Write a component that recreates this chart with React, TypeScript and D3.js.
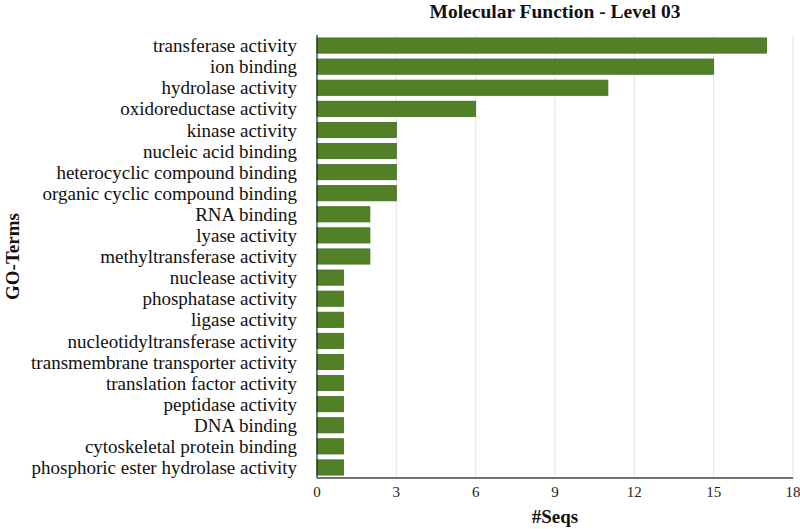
import React, { useRef, useEffect } from 'react';
import { select, scaleLinear, scaleBand, range } from 'd3';

const width = 800;
const height = 529;
const margin = { top: 35, right: 7, bottom: 51, left: 317 };

const terms = [
    'transferase activity',
    'ion binding',
    'hydrolase activity',
    'oxidoreductase activity',
    'kinase activity',
    'nucleic acid binding',
    'heterocyclic compound binding',
    'organic cyclic compound binding',
    'RNA binding',
    'lyase activity',
    'methyltransferase activity',
    'nuclease activity',
    'phosphatase activity',
    'ligase activity',
    'nucleotidyltransferase activity',
    'transmembrane transporter activity',
    'translation factor activity',
    'peptidase activity',
    'DNA binding',
    'cytoskeletal protein binding',
    'phosphoric ester hydrolase activity',
];

const seqs = [17, 15, 11, 6, 3, 3, 3, 3, 2, 2, 2, 1, 1, 1, 1, 1, 1, 1, 1, 1, 1];

const xTicks = [0, 3, 6, 9, 12, 15, 18];

const font = '"Liberation Serif", "Times New Roman", serif';

export default function App() {
    const svgRef = useRef<SVGSVGElement>(null);

    useEffect(() => {
        const svg = select(svgRef.current);
        svg.selectAll('*').remove();

        const x = scaleLinear()
            .domain([0, 18])
            .range([margin.left, width - margin.right]);

        const y = scaleBand<string>()
            .domain(terms)
            .range([margin.top, height - margin.bottom])
            .paddingInner(0.28)
            .paddingOuter(0.14);

        const bottom = height - margin.bottom;

        // grid
        svg.append('g')
            .selectAll('line')
            .data(xTicks.slice(1))
            .enter()
            .append('line')
            .attr('x1', d => x(d))
            .attr('x2', d => x(d))
            .attr('y1', margin.top)
            .attr('y2', bottom)
            .attr('stroke', '#e4e4e4')
            .attr('stroke-width', 1);

        // bars
        svg.append('g')
            .selectAll('rect')
            .data(range(terms.length))
            .enter()
            .append('rect')
            .attr('x', x(0))
            .attr('y', i => y(terms[i]) as number)
            .attr('width', i => x(seqs[i]) - x(0))
            .attr('height', y.bandwidth())
            .attr('fill', '#518027')
            .attr('stroke', '#3e6a1e')
            .attr('stroke-width', 0.8);

        // axes lines
        svg.append('line')
            .attr('x1', x(0)).attr('x2', x(0))
            .attr('y1', margin.top).attr('y2', bottom)
            .attr('stroke', '#222').attr('stroke-width', 1.2);
        svg.append('line')
            .attr('x1', x(0)).attr('x2', x(18))
            .attr('y1', bottom).attr('y2', bottom)
            .attr('stroke', '#444').attr('stroke-width', 1.5);

        // category labels
        svg.append('g')
            .selectAll('text')
            .data(terms)
            .enter()
            .append('text')
            .attr('x', x(0) - 20)
            .attr('y', d => (y(d) as number) + y.bandwidth() / 2)
            .attr('dy', '0.35em')
            .attr('text-anchor', 'end')
            .attr('font-family', font)
            .attr('font-size', 19)
            .attr('fill', '#111')
            .text(d => d);

        // tick labels
        svg.append('g')
            .selectAll('text')
            .data(xTicks)
            .enter()
            .append('text')
            .attr('x', d => x(d))
            .attr('y', bottom + 19)
            .attr('text-anchor', 'middle')
            .attr('font-family', font)
            .attr('font-size', 15)
            .attr('fill', '#222')
            .text(d => d);

        // title
        svg.append('text')
            .attr('x', (x(0) + x(18)) / 2)
            .attr('y', 18)
            .attr('text-anchor', 'middle')
            .attr('font-family', font)
            .attr('font-weight', 'bold')
            .attr('font-size', 19.5)
            .attr('fill', '#111')
            .text('Molecular Function - Level 03');

        svg.append('text')
            .attr('x', (x(0) + x(18)) / 2)
            .attr('y', 523)
            .attr('text-anchor', 'middle')
            .attr('font-family', font)
            .attr('font-weight', 'bold')
            .attr('font-size', 19)
            .attr('fill', '#111')
            .text('#Seqs');

        svg.append('text')
            .attr('transform', `translate(19, ${(margin.top + bottom) / 2}) rotate(-90)`)
            .attr('text-anchor', 'middle')
            .attr('font-family', font)
            .attr('font-weight', 'bold')
            .attr('font-size', 19)
            .attr('fill', '#111')
            .text('GO-Terms');
    }, []);

    return (
        <svg
            ref={svgRef}
            width={width}
            height={height}
            style={{ position: 'absolute', left: 0, top: 0, background: '#fff' }}
        />
    );
}
